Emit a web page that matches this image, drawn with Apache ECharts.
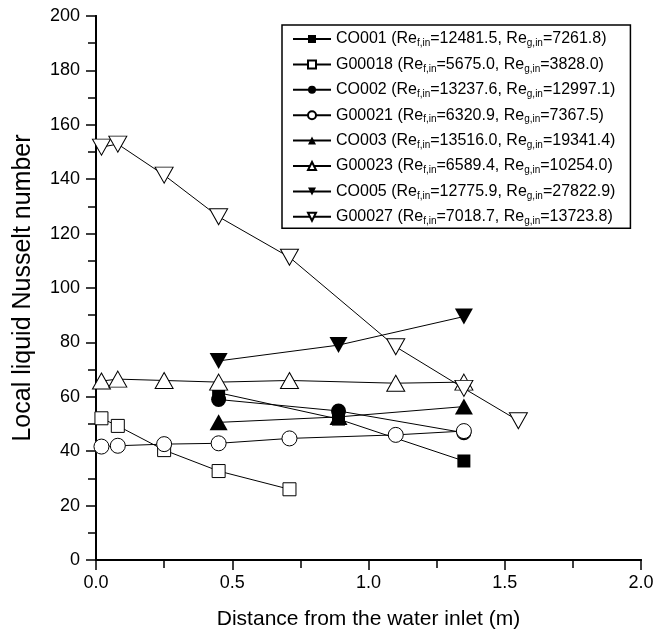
<!DOCTYPE html>
<html><head><meta charset="utf-8">
<script src="https://cdn.jsdelivr.net/npm/echarts@6/dist/echarts.min.js"></script>
<style>html,body{margin:0;padding:0;background:#fff}#c{width:665px;height:636px}</style>
</head><body><div id="c"></div>
<script>
const xG = [0.02, 0.08, 0.25, 0.45, 0.71, 1.1, 1.35, 1.55];
const xCO = [0.45, 0.89, 1.35];
const co001 = [61.5, 51.8, 36.4];
const g00018 = [52.1, 49.3, 40.4, 32.7, 26.0];
const co002 = [59.0, 54.8, 46.8];
const g00021 = [41.7, 42.0, 42.6, 42.9, 44.7, 46.0, 47.4];
const co003 = [50.6, 52.6, 56.4];
const g00023 = [65.8, 66.5, 66.0, 65.4, 66.0, 65.0, 65.4];
const co005 = [73.2, 79.0, 89.5];
const g00027 = [151.8, 152.9, 141.5, 126.2, 111.3, 78.4, 63.1, 51.2];

const names = ['CO001', 'G00018', 'CO002', 'G00021', 'CO003', 'G00023', 'CO005', 'G00027'];
const reF = ['12481.5', '5675.0', '13237.6', '6320.9', '13516.0', '6589.4', '12775.9', '7018.7'];
const reG = ['7261.8', '3828.0', '12997.1', '7367.5', '19341.4', '10254.0', '27822.9', '13723.8'];
const xTicks = ['0.0', '0.5', '1.0', '1.5', '2.0'];

function pairs(xs, ys) { return ys.map((v, i) => [xs[i], v]); }

const specs = [
  { d: pairs(xCO, co001), sym: 'rect', size: 13, fill: '#000', rot: 0 },
  { d: pairs(xG, g00018), sym: 'rect', size: 13, fill: '#fff', rot: 0 },
  { d: pairs(xCO, co002), sym: 'circle', size: 15, fill: '#000', rot: 0 },
  { d: pairs(xG, g00021), sym: 'circle', size: 15, fill: '#fff', rot: 0 },
  { d: pairs(xCO, co003), sym: 'triangle', size: [18, 16], fill: '#000', rot: 0 },
  { d: pairs(xG, g00023), sym: 'triangle', size: [18, 16], fill: '#fff', rot: 0 },
  { d: pairs(xCO, co005), sym: 'triangle', size: [18, 16], fill: '#000', rot: 180 },
  { d: pairs(xG, g00027), sym: 'triangle', size: [18, 16], fill: '#fff', rot: 180 }
];

const FF = 'Liberation Sans, Arial, sans-serif';
const legendLabel = {};
names.forEach((n, i) => {
  legendLabel[n] = '{n|' + n + ' (Re}{s|f,in}{n|=' + reF[i] + ', Re}{s|g,in}{n|=' + reG[i] + ')}';
});

const series = specs.map((s, i) => ({
  name: names[i],
  type: 'line',
  data: s.d,
  symbol: s.sym,
  symbolSize: s.size,
  symbolRotate: s.rot,
  showAllSymbol: true,
  lineStyle: { color: '#000', width: 1 },
  itemStyle: { color: s.fill, borderColor: '#000', borderWidth: s.fill === '#fff' ? 1 : 0 },
  emphasis: { disabled: true },
  animation: false,
  z: 2 + i
}));

const axisFont = { fontFamily: FF, fontSize: 18, color: '#000' };
const lineS = { show: true, lineStyle: { color: '#000', width: 2 } };

const option = {
  animation: false,
  grid: [{ left: 96, right: 24, top: 16, bottom: 76 }],
  xAxis: [
    {
      type: 'value', min: 0, max: 2, interval: 0.5,
      name: 'Distance from the water inlet (m)', nameLocation: 'middle', nameGap: 49,
      nameTextStyle: { fontFamily: FF, fontSize: 21, color: '#000' },
      axisLine: lineS,
      axisTick: { show: true, length: 10, lineStyle: { color: '#000', width: 1.5 } },
      minorTick: { show: true, splitNumber: 2, length: 6, lineStyle: { color: '#000', width: 1.5 } },
      axisLabel: Object.assign({ margin: 14, formatter: (v) => xTicks[Math.round(v / 0.5)] }, axisFont),
      splitLine: { show: false }
    },
    {
      type: 'value', min: 0, max: 2, interval: 0.5, position: 'top',
      axisLine: lineS,
      axisTick: { show: true, inside: true, length: 8, lineStyle: { color: '#000', width: 1.5 } },
      minorTick: { show: true, splitNumber: 2, length: 8, lineStyle: { color: '#000', width: 1.5 } },
      axisLabel: { show: false },
      splitLine: { show: false }
    }
  ],
  yAxis: [
    {
      type: 'value', min: 0, max: 200, interval: 20,
      name: 'Local liquid Nusselt number', nameLocation: 'middle', nameGap: 60,
      nameTextStyle: { fontFamily: FF, fontSize: 25, color: '#000' },
      axisLine: lineS,
      axisTick: { show: true, length: 10, lineStyle: { color: '#000', width: 1.5 } },
      minorTick: { show: true, splitNumber: 2, length: 6, lineStyle: { color: '#000', width: 1.5 } },
      axisLabel: Object.assign({ margin: 16 }, axisFont),
      splitLine: { show: false }
    },
    {
      type: 'value', min: 0, max: 200, interval: 20, position: 'right',
      axisLine: lineS,
      axisTick: { show: true, inside: true, length: 8, lineStyle: { color: '#000', width: 1.5 } },
      minorTick: { show: true, splitNumber: 2, length: 8, lineStyle: { color: '#000', width: 1.5 } },
      axisLabel: { show: false },
      splitLine: { show: false }
    }
  ],
  legend: {
    orient: 'vertical', left: 282, top: 25,
    data: names,
    itemWidth: 38, itemHeight: 10, itemGap: 7.9,
    padding: [6, 15, 2, 10],
    backgroundColor: '#fff',
    borderColor: '#000', borderWidth: 1.5, borderRadius: 0,
    selectedMode: false,
    formatter: (n) => legendLabel[n],
    textStyle: {
      color: '#000',
      fontFamily: FF,
      rich: {
        n: { fontSize: 16, lineHeight: 18, fontFamily: FF, color: '#000' },
        s: { fontSize: 10, lineHeight: 19, verticalAlign: 'bottom', fontFamily: FF, color: '#000' }
      }
    },
    z: 20
  },
  series: series
};

const chart = echarts.init(document.getElementById('c'), null, { renderer: 'canvas' });
chart.setOption(option);
</script>
</body></html>
